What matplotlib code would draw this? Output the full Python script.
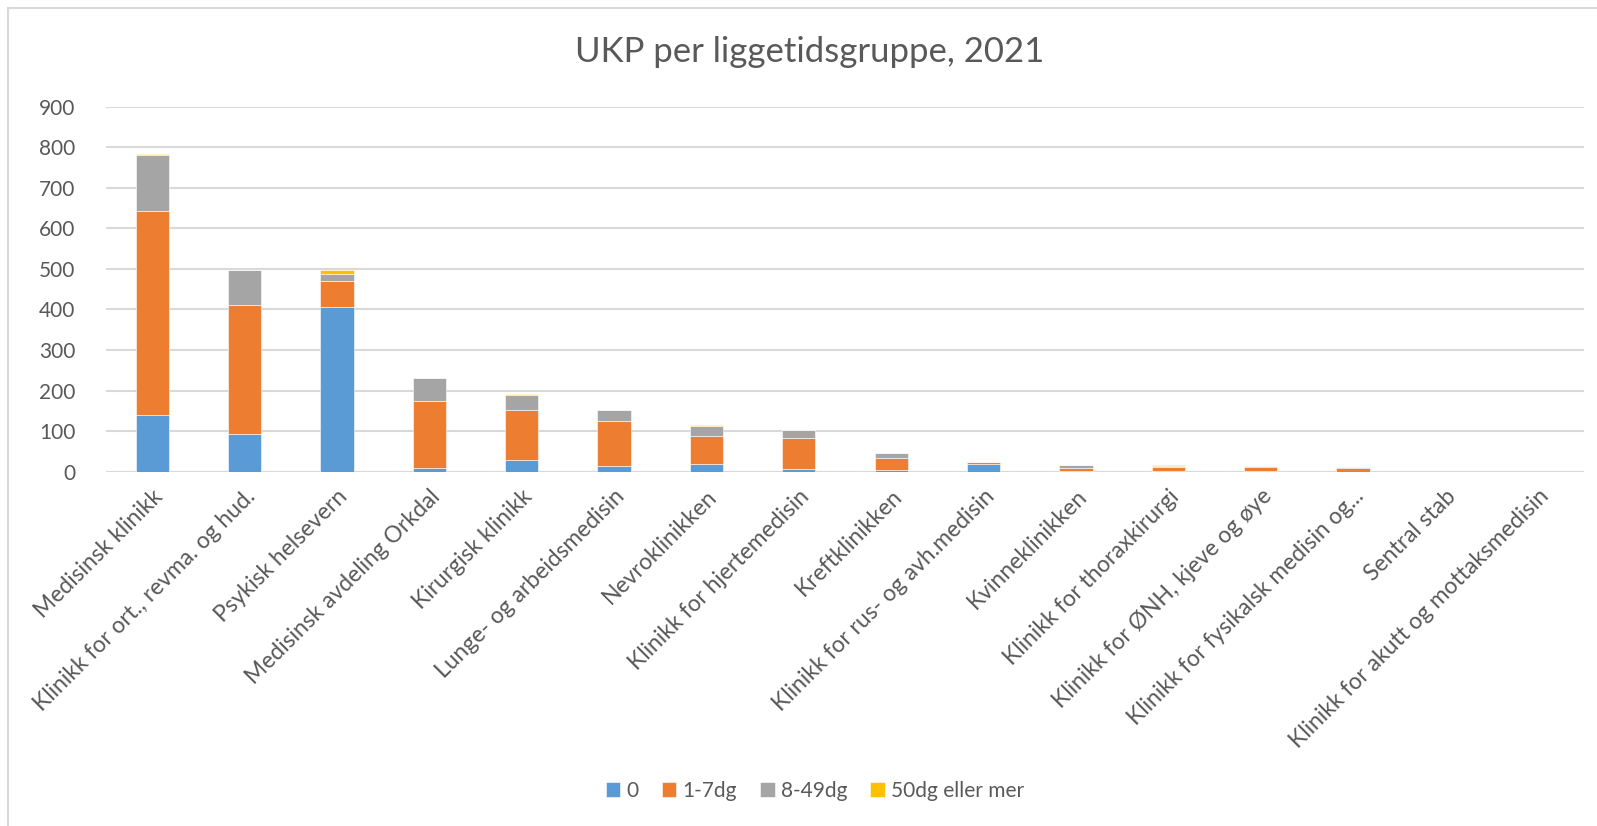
import matplotlib
matplotlib.use("Agg")
import matplotlib.pyplot as plt
import numpy as np
from matplotlib.lines import Line2D

plt.rcParams['font.family'] = ['Lato', 'DejaVu Sans']

categories = [
    "Medisinsk klinikk",
    "Klinikk for ort., revma. og hud.",
    "Psykisk helsevern",
    "Medisinsk avdeling Orkdal",
    "Kirurgisk klinikk",
    "Lunge- og arbeidsmedisin",
    "Nevroklinikken",
    "Klinikk for hjertemedisin",
    "Kreftklinikken",
    "Klinikk for rus- og avh.medisin",
    "Kvinneklinikken",
    "Klinikk for thoraxkirurgi",
    "Klinikk for ØNH, kjeve og øye",
    "Klinikk for fysikalsk medisin og...",
    "Sentral stab",
    "Klinikk for akutt og mottaksmedisin",
]
s0 = [140, 92, 406, 9, 29, 13, 18, 7, 4, 20, 1, 1, 1, 0, 0, 0]
s1_7 = [503, 320, 63, 166, 124, 111, 71, 76, 31, 3, 9, 10, 11, 9, 0, 0]
s8_49 = [137, 86, 19, 56, 36, 29, 23, 19, 10, 1, 7, 3, 2, 2, 0, 0]
s50 = [3, 0, 10, 0, 3, 0, 4, 0, 0, 0, 0, 3, 0, 0, 0, 0]
series_names = ["0", "1-7dg", "8-49dg", "50dg eller mer"]
colors = ["#5B9BD5", "#ED7D31", "#A5A5A5", "#FFC000"]
title = "UKP per liggetidsgruppe, 2021"
yticks = [0, 100, 200, 300, 400, 500, 600, 700, 800, 900]

W, H = 1597, 826
fig = plt.figure(figsize=(W / 100, H / 100), dpi=100)
ax = fig.add_axes([106 / W, 1 - 471.7 / H, (1584 - 106) / W, (471.7 - 106.7) / H])

x = np.arange(len(categories))
bottom = np.zeros(len(categories))
handles = []
for vals, name, c in zip([s0, s1_7, s8_49, s50], series_names, colors):
    v = np.array(vals, dtype=float)
    b = ax.bar(x, v, width=0.36, bottom=bottom, color=c, label=name, zorder=3,
               edgecolor='white', linewidth=0.4)
    bottom += v
    handles.append(b)

ax.set_xlim(-0.5, len(categories) - 0.5)
ax.set_ylim(0, 900)
ax.set_yticks(yticks)
ax.set_yticklabels([str(t) for t in yticks])
ax.yaxis.grid(True, color="#D9D9D9", linewidth=1.5, zorder=0)
ax.set_axisbelow(True)
for sp in ax.spines.values():
    sp.set_visible(False)
ax.axhline(0, color="#D9D9D9", linewidth=1.5, zorder=2)
ax.tick_params(axis='both', length=0, labelsize=15, colors="#595959")
ax.tick_params(axis='y', pad=22)
ax.set_xticks(x)
ax.set_xticklabels(categories, rotation=45, ha='right', rotation_mode='anchor',
                   fontsize=16.5, color="#595959")
ax.tick_params(axis='x', pad=10)

fig.text(810 / W, 1 - 52 / H, title, ha='center', va='center', fontsize=25, color="#595959")

fig.legend(handles=handles, labels=series_names, loc='center', ncol=4,
           bbox_to_anchor=(815 / W, 1 - 791 / H), frameon=False, fontsize=15,
           labelcolor="#595959", handlelength=0.7, handleheight=0.7,
           handletextpad=0.3, columnspacing=1.1)

# chart-area border (left and top visible)
fig.add_artist(Line2D([8 / W, 8 / W], [0, 1 - 8 / H], transform=fig.transFigure,
                      color="#D9D9D9", linewidth=1.5))
fig.add_artist(Line2D([8 / W, 1], [1 - 8 / H, 1 - 8 / H], transform=fig.transFigure,
                      color="#D9D9D9", linewidth=1.5))

fig.savefig("out.png", dpi=100, facecolor='white')
